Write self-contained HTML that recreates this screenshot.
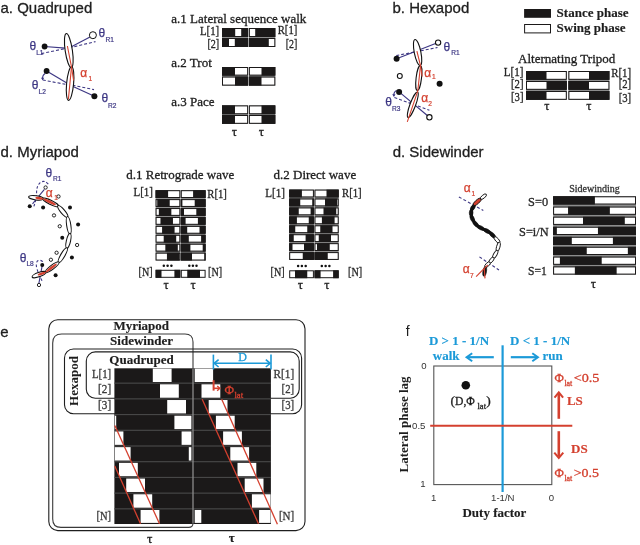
<!DOCTYPE html>
<html><head><meta charset="utf-8"><title>Gait figure</title>
<style>
html,body{margin:0;padding:0;background:#fff;width:640px;height:545px;overflow:hidden;}
svg{display:block;will-change:transform;background:#fff;}
text{white-space:pre;}
</style></head>
<body>
<svg width="640" height="545" viewBox="0 0 640 545">
<rect x="0" y="0" width="640" height="545" fill="#fff"/>
<text x="0.5" y="12.5" font-family="'Liberation Sans'" font-size="15" fill="#1e1e1e" text-anchor="start" font-weight="normal"  stroke="#1e1e1e" stroke-width="0.3">a. Quadruped</text>
<text x="392.5" y="12.5" font-family="'Liberation Sans'" font-size="15" fill="#1e1e1e" text-anchor="start" font-weight="normal"  stroke="#1e1e1e" stroke-width="0.3">b. Hexapod</text>
<text x="0.5" y="157" font-family="'Liberation Sans'" font-size="15" fill="#1e1e1e" text-anchor="start" font-weight="normal"  stroke="#1e1e1e" stroke-width="0.3">d. Myriapod</text>
<text x="392.7" y="157.2" font-family="'Liberation Sans'" font-size="15" fill="#1e1e1e" text-anchor="start" font-weight="normal"  stroke="#1e1e1e" stroke-width="0.3">d. Sidewinder</text>
<text x="0.3" y="336.5" font-family="'Liberation Sans'" font-size="15" fill="#1e1e1e" text-anchor="start" font-weight="normal"  stroke="#1e1e1e" stroke-width="0.3">e</text>
<text x="405.8" y="336.3" font-family="'Liberation Sans'" font-size="14" fill="#1e1e1e" text-anchor="start" font-weight="normal" >f</text>
<text x="171.3" y="22.5" font-family="'Liberation Serif'" font-size="13" fill="#1e1e1e" text-anchor="start" font-weight="normal"  stroke="#1e1e1e" stroke-width="0.3">a.1 Lateral sequence walk</text>
<text x="171.3" y="66.5" font-family="'Liberation Serif'" font-size="13" fill="#1e1e1e" text-anchor="start" font-weight="normal"  stroke="#1e1e1e" stroke-width="0.3">a.2 Trot</text>
<text x="171.3" y="105.6" font-family="'Liberation Serif'" font-size="13" fill="#1e1e1e" text-anchor="start" font-weight="normal"  stroke="#1e1e1e" stroke-width="0.3">a.3 Pace</text>
<rect x="222" y="28" width="26.1" height="19" fill="#8c8c8c" />
<rect x="248.9" y="28" width="26.4" height="19" fill="#8c8c8c" />
<rect x="222" y="28" width="26.1" height="9" fill="#1b1919" />
<rect x="223" y="29" width="24.1" height="7" fill="#fff" />
<rect x="222" y="28" width="13.2" height="9" fill="#1b1919" />
<rect x="241.2" y="28" width="6.9" height="9" fill="#1b1919" />
<rect x="248.9" y="28" width="26.4" height="9" fill="#1b1919" />
<rect x="249.9" y="29" width="24.4" height="7" fill="#fff" />
<rect x="255.2" y="28" width="20.1" height="9" fill="#1b1919" />
<rect x="222" y="38" width="26.1" height="9" fill="#1b1919" />
<rect x="223" y="39" width="24.1" height="7" fill="#fff" />
<rect x="222" y="38" width="7" height="9" fill="#1b1919" />
<rect x="234.8" y="38" width="13.3" height="9" fill="#1b1919" />
<rect x="248.9" y="38" width="26.4" height="9" fill="#1b1919" />
<rect x="249.9" y="39" width="24.4" height="7" fill="#fff" />
<rect x="248.9" y="38" width="19.9" height="9" fill="#1b1919" />
<text x="200" y="34.5" font-family="'Liberation Serif'" font-size="12" fill="#262626" text-anchor="start" font-weight="normal"  textLength="19.2" lengthAdjust="spacingAndGlyphs" stroke="#262626" stroke-width="0.3">L[1]</text>
<text x="207.4" y="47.6" font-family="'Liberation Serif'" font-size="12" fill="#262626" text-anchor="start" font-weight="normal"  textLength="11.8" lengthAdjust="spacingAndGlyphs" stroke="#262626" stroke-width="0.3">[2]</text>
<text x="277.7" y="34.3" font-family="'Liberation Serif'" font-size="12" fill="#262626" text-anchor="start" font-weight="normal"  textLength="19.6" lengthAdjust="spacingAndGlyphs" stroke="#262626" stroke-width="0.3">R[1]</text>
<text x="285.7" y="47.6" font-family="'Liberation Serif'" font-size="12" fill="#262626" text-anchor="start" font-weight="normal"  textLength="11.6" lengthAdjust="spacingAndGlyphs" stroke="#262626" stroke-width="0.3">[2]</text>
<rect x="222" y="67" width="26.1" height="18.6" fill="#8c8c8c" />
<rect x="248.9" y="67" width="26.4" height="18.6" fill="#8c8c8c" />
<rect x="222" y="67" width="26.1" height="8.6" fill="#1b1919" />
<rect x="223" y="68" width="24.1" height="6.6" fill="#fff" />
<rect x="222" y="67" width="13" height="8.6" fill="#1b1919" />
<rect x="248.9" y="67" width="26.4" height="8.6" fill="#1b1919" />
<rect x="249.9" y="68" width="24.4" height="6.6" fill="#fff" />
<rect x="261.5" y="67" width="13.8" height="8.6" fill="#1b1919" />
<rect x="222" y="76.6" width="26.1" height="9" fill="#1b1919" />
<rect x="223" y="77.6" width="24.1" height="7" fill="#fff" />
<rect x="235" y="76.6" width="13.1" height="9" fill="#1b1919" />
<rect x="248.9" y="76.6" width="26.4" height="9" fill="#1b1919" />
<rect x="249.9" y="77.6" width="24.4" height="7" fill="#fff" />
<rect x="248.9" y="76.6" width="12.6" height="9" fill="#1b1919" />
<rect x="222" y="105.4" width="26.1" height="18.4" fill="#8c8c8c" />
<rect x="248.9" y="105.4" width="26.4" height="18.4" fill="#8c8c8c" />
<rect x="222" y="105.4" width="26.1" height="8.8" fill="#1b1919" />
<rect x="223" y="106.4" width="24.1" height="6.8" fill="#fff" />
<rect x="222" y="105.4" width="13" height="8.8" fill="#1b1919" />
<rect x="248.9" y="105.4" width="26.4" height="8.8" fill="#1b1919" />
<rect x="249.9" y="106.4" width="24.4" height="6.8" fill="#fff" />
<rect x="261.5" y="105.4" width="13.8" height="8.8" fill="#1b1919" />
<rect x="222" y="115" width="26.1" height="8.8" fill="#1b1919" />
<rect x="223" y="116" width="24.1" height="6.8" fill="#fff" />
<rect x="222" y="115" width="13" height="8.8" fill="#1b1919" />
<rect x="248.9" y="115" width="26.4" height="8.8" fill="#1b1919" />
<rect x="249.9" y="116" width="24.4" height="6.8" fill="#fff" />
<rect x="261.5" y="115" width="13.8" height="8.8" fill="#1b1919" />
<text x="234.4" y="135.5" font-family="'Liberation Serif'" font-size="13" fill="#1e1e1e" text-anchor="middle" font-weight="normal"  stroke="#1e1e1e" stroke-width="0.3">τ</text>
<text x="261.3" y="135.5" font-family="'Liberation Serif'" font-size="13" fill="#1e1e1e" text-anchor="middle" font-weight="normal"  stroke="#1e1e1e" stroke-width="0.3">τ</text>
<rect x="524.1" y="9" width="26.9" height="8.8" fill="#1b1919" />
<rect x="524.1" y="24" width="26.9" height="9.4" fill="#1b1919" />
<rect x="525.1" y="25" width="24.9" height="7.4" fill="#fff" />
<text x="556.6" y="17.4" font-family="'Liberation Serif'" font-size="13" fill="#1e1e1e" text-anchor="start" font-weight="bold"  stroke="#1e1e1e" stroke-width="0.15">Stance phase</text>
<text x="556.6" y="31.8" font-family="'Liberation Serif'" font-size="13" fill="#1e1e1e" text-anchor="start" font-weight="bold"  stroke="#1e1e1e" stroke-width="0.15">Swing phase</text>
<text x="518.1" y="63.1" font-family="'Liberation Serif'" font-size="13" fill="#1e1e1e" text-anchor="start" font-weight="normal"  stroke="#1e1e1e" stroke-width="0.3">Alternating Tripod</text>
<rect x="526" y="71" width="40.8" height="28.8" fill="#8c8c8c" />
<rect x="568.4" y="71" width="41" height="28.8" fill="#8c8c8c" />
<rect x="526" y="71" width="40.8" height="8.8" fill="#1b1919" />
<rect x="527" y="72" width="38.8" height="6.8" fill="#fff" />
<rect x="526" y="71" width="20.5" height="8.8" fill="#1b1919" />
<rect x="568.4" y="71" width="41" height="8.8" fill="#1b1919" />
<rect x="569.4" y="72" width="39" height="6.8" fill="#fff" />
<rect x="589" y="71" width="20.4" height="8.8" fill="#1b1919" />
<rect x="526" y="81" width="40.8" height="8.8" fill="#1b1919" />
<rect x="527" y="82" width="38.8" height="6.8" fill="#fff" />
<rect x="546.5" y="81" width="20.3" height="8.8" fill="#1b1919" />
<rect x="568.4" y="81" width="41" height="8.8" fill="#1b1919" />
<rect x="569.4" y="82" width="39" height="6.8" fill="#fff" />
<rect x="568.4" y="81" width="20.6" height="8.8" fill="#1b1919" />
<rect x="526" y="91" width="40.8" height="8.8" fill="#1b1919" />
<rect x="527" y="92" width="38.8" height="6.8" fill="#fff" />
<rect x="526" y="91" width="20.5" height="8.8" fill="#1b1919" />
<rect x="568.4" y="91" width="41" height="8.8" fill="#1b1919" />
<rect x="569.4" y="92" width="39" height="6.8" fill="#fff" />
<rect x="589" y="91" width="20.4" height="8.8" fill="#1b1919" />
<text x="503.8" y="75.8" font-family="'Liberation Serif'" font-size="12" fill="#262626" text-anchor="start" font-weight="normal"  textLength="19.7" lengthAdjust="spacingAndGlyphs" stroke="#262626" stroke-width="0.3">L[1]</text>
<text x="511" y="88.1" font-family="'Liberation Serif'" font-size="12" fill="#262626" text-anchor="start" font-weight="normal"  textLength="12.5" lengthAdjust="spacingAndGlyphs" stroke="#262626" stroke-width="0.3">[2]</text>
<text x="511" y="101.4" font-family="'Liberation Serif'" font-size="12" fill="#262626" text-anchor="start" font-weight="normal"  textLength="12.5" lengthAdjust="spacingAndGlyphs" stroke="#262626" stroke-width="0.3">[3]</text>
<text x="611.2" y="76.7" font-family="'Liberation Serif'" font-size="12" fill="#262626" text-anchor="start" font-weight="normal"  textLength="20" lengthAdjust="spacingAndGlyphs" stroke="#262626" stroke-width="0.3">R[1]</text>
<text x="618.7" y="88.2" font-family="'Liberation Serif'" font-size="12" fill="#262626" text-anchor="start" font-weight="normal"  textLength="12.5" lengthAdjust="spacingAndGlyphs" stroke="#262626" stroke-width="0.3">[2]</text>
<text x="618.7" y="101.5" font-family="'Liberation Serif'" font-size="12" fill="#262626" text-anchor="start" font-weight="normal"  textLength="12.5" lengthAdjust="spacingAndGlyphs" stroke="#262626" stroke-width="0.3">[3]</text>
<text x="546.9" y="110" font-family="'Liberation Serif'" font-size="13" fill="#1e1e1e" text-anchor="middle" font-weight="normal"  stroke="#1e1e1e" stroke-width="0.3">τ</text>
<text x="588.8" y="110" font-family="'Liberation Serif'" font-size="13" fill="#1e1e1e" text-anchor="middle" font-weight="normal"  stroke="#1e1e1e" stroke-width="0.3">τ</text>
<text x="126.3" y="178.8" font-family="'Liberation Serif'" font-size="13" fill="#1e1e1e" text-anchor="start" font-weight="normal"  stroke="#1e1e1e" stroke-width="0.3">d.1 Retrograde wave</text>
<rect x="155.6" y="190.2" width="24.7" height="70.31" fill="#8c8c8c" />
<rect x="180.8" y="190.2" width="24.8" height="70.31" fill="#8c8c8c" />
<rect x="155.6" y="190.2" width="24.7" height="7.8" fill="#1b1919" />
<rect x="156.6" y="191.2" width="22.7" height="5.8" fill="#fff" />
<rect x="155.6" y="190.2" width="12.5" height="7.8" fill="#1b1919" />
<rect x="180.8" y="190.2" width="24.8" height="7.8" fill="#1b1919" />
<rect x="181.8" y="191.2" width="22.8" height="5.8" fill="#fff" />
<rect x="193.1" y="190.2" width="12.5" height="7.8" fill="#1b1919" />
<rect x="155.6" y="199.13" width="24.7" height="7.8" fill="#1b1919" />
<rect x="156.6" y="200.13" width="22.7" height="5.8" fill="#fff" />
<rect x="157.22" y="199.13" width="12.5" height="7.8" fill="#1b1919" />
<rect x="180.8" y="199.13" width="24.8" height="7.8" fill="#1b1919" />
<rect x="181.8" y="200.13" width="22.8" height="5.8" fill="#fff" />
<rect x="194.7" y="199.13" width="10.9" height="7.8" fill="#1b1919" />
<rect x="180.8" y="199.13" width="1.6" height="7.8" fill="#1b1919" />
<rect x="155.6" y="208.06" width="24.7" height="7.8" fill="#1b1919" />
<rect x="156.6" y="209.06" width="22.7" height="5.8" fill="#fff" />
<rect x="158.84" y="208.06" width="12.5" height="7.8" fill="#1b1919" />
<rect x="180.8" y="208.06" width="24.8" height="7.8" fill="#1b1919" />
<rect x="181.8" y="209.06" width="22.8" height="5.8" fill="#fff" />
<rect x="196.3" y="208.06" width="9.3" height="7.8" fill="#1b1919" />
<rect x="180.8" y="208.06" width="3.2" height="7.8" fill="#1b1919" />
<rect x="155.6" y="216.99" width="24.7" height="7.8" fill="#1b1919" />
<rect x="156.6" y="217.99" width="22.7" height="5.8" fill="#fff" />
<rect x="160.46" y="216.99" width="12.5" height="7.8" fill="#1b1919" />
<rect x="180.8" y="216.99" width="24.8" height="7.8" fill="#1b1919" />
<rect x="181.8" y="217.99" width="22.8" height="5.8" fill="#fff" />
<rect x="197.9" y="216.99" width="7.7" height="7.8" fill="#1b1919" />
<rect x="180.8" y="216.99" width="4.8" height="7.8" fill="#1b1919" />
<rect x="155.6" y="225.92" width="24.7" height="7.8" fill="#1b1919" />
<rect x="156.6" y="226.92" width="22.7" height="5.8" fill="#fff" />
<rect x="162.08" y="225.92" width="12.5" height="7.8" fill="#1b1919" />
<rect x="180.8" y="225.92" width="24.8" height="7.8" fill="#1b1919" />
<rect x="181.8" y="226.92" width="22.8" height="5.8" fill="#fff" />
<rect x="199.5" y="225.92" width="6.1" height="7.8" fill="#1b1919" />
<rect x="180.8" y="225.92" width="6.4" height="7.8" fill="#1b1919" />
<rect x="155.6" y="234.85" width="24.7" height="7.8" fill="#1b1919" />
<rect x="156.6" y="235.85" width="22.7" height="5.8" fill="#fff" />
<rect x="163.7" y="234.85" width="12.5" height="7.8" fill="#1b1919" />
<rect x="180.8" y="234.85" width="24.8" height="7.8" fill="#1b1919" />
<rect x="181.8" y="235.85" width="22.8" height="5.8" fill="#fff" />
<rect x="201.1" y="234.85" width="4.5" height="7.8" fill="#1b1919" />
<rect x="180.8" y="234.85" width="8" height="7.8" fill="#1b1919" />
<rect x="155.6" y="243.78" width="24.7" height="7.8" fill="#1b1919" />
<rect x="156.6" y="244.78" width="22.7" height="5.8" fill="#fff" />
<rect x="165.32" y="243.78" width="12.5" height="7.8" fill="#1b1919" />
<rect x="180.8" y="243.78" width="24.8" height="7.8" fill="#1b1919" />
<rect x="181.8" y="244.78" width="22.8" height="5.8" fill="#fff" />
<rect x="202.7" y="243.78" width="2.9" height="7.8" fill="#1b1919" />
<rect x="180.8" y="243.78" width="9.6" height="7.8" fill="#1b1919" />
<rect x="155.6" y="252.71" width="24.7" height="7.8" fill="#1b1919" />
<rect x="156.6" y="253.71" width="22.7" height="5.8" fill="#fff" />
<rect x="166.94" y="252.71" width="12.5" height="7.8" fill="#1b1919" />
<rect x="180.8" y="252.71" width="24.8" height="7.8" fill="#1b1919" />
<rect x="181.8" y="253.71" width="22.8" height="5.8" fill="#fff" />
<rect x="204.3" y="252.71" width="1.3" height="7.8" fill="#1b1919" />
<rect x="180.8" y="252.71" width="11.2" height="7.8" fill="#1b1919" />
<rect x="155.6" y="269.8" width="24.7" height="8" fill="#1b1919" />
<rect x="156.6" y="270.8" width="22.7" height="6" fill="#fff" />
<rect x="155.6" y="269.8" width="5.9" height="8" fill="#1b1919" />
<rect x="174.4" y="269.8" width="5.9" height="8" fill="#1b1919" />
<rect x="180.8" y="269.8" width="24.8" height="8" fill="#1b1919" />
<rect x="181.8" y="270.8" width="22.8" height="6" fill="#fff" />
<rect x="187.25" y="269.8" width="12.75" height="8" fill="#1b1919" />
<text x="133.5" y="196.3" font-family="'Liberation Serif'" font-size="12" fill="#262626" text-anchor="start" font-weight="normal"  textLength="19.5" lengthAdjust="spacingAndGlyphs" stroke="#262626" stroke-width="0.3">L[1]</text>
<text x="207.3" y="197.6" font-family="'Liberation Serif'" font-size="12" fill="#262626" text-anchor="start" font-weight="normal"  textLength="19.6" lengthAdjust="spacingAndGlyphs" stroke="#262626" stroke-width="0.3">R[1]</text>
<text x="138.6" y="276" font-family="'Liberation Serif'" font-size="12" fill="#262626" text-anchor="start" font-weight="normal"  textLength="14" lengthAdjust="spacingAndGlyphs" stroke="#262626" stroke-width="0.3">[N]</text>
<text x="208.1" y="276" font-family="'Liberation Serif'" font-size="12" fill="#262626" text-anchor="start" font-weight="normal"  textLength="14" lengthAdjust="spacingAndGlyphs" stroke="#262626" stroke-width="0.3">[N]</text>
<circle cx="163.8" cy="265.7" r="1.25" fill="#111"/>
<circle cx="167.6" cy="265.7" r="1.25" fill="#111"/>
<circle cx="171.4" cy="265.7" r="1.25" fill="#111"/>
<circle cx="189.3" cy="265.7" r="1.25" fill="#111"/>
<circle cx="192.9" cy="265.7" r="1.25" fill="#111"/>
<circle cx="196.5" cy="265.7" r="1.25" fill="#111"/>
<text x="166.2" y="289" font-family="'Liberation Serif'" font-size="13" fill="#1e1e1e" text-anchor="middle" font-weight="normal"  stroke="#1e1e1e" stroke-width="0.3">τ</text>
<text x="193.1" y="289" font-family="'Liberation Serif'" font-size="13" fill="#1e1e1e" text-anchor="middle" font-weight="normal"  stroke="#1e1e1e" stroke-width="0.3">τ</text>
<text x="273.5" y="178.8" font-family="'Liberation Serif'" font-size="13" fill="#1e1e1e" text-anchor="start" font-weight="normal"  stroke="#1e1e1e" stroke-width="0.3">d.2 Direct wave</text>
<rect x="289.2" y="189.6" width="24.7" height="70.31" fill="#8c8c8c" />
<rect x="314.5" y="189.6" width="24.2" height="70.31" fill="#8c8c8c" />
<rect x="289.2" y="189.6" width="24.7" height="7.8" fill="#1b1919" />
<rect x="290.2" y="190.6" width="22.7" height="5.8" fill="#fff" />
<rect x="289.2" y="189.6" width="12.7" height="7.8" fill="#1b1919" />
<rect x="314.5" y="189.6" width="24.2" height="7.8" fill="#1b1919" />
<rect x="315.5" y="190.6" width="22.2" height="5.8" fill="#fff" />
<rect x="326.5" y="189.6" width="12.2" height="7.8" fill="#1b1919" />
<rect x="289.2" y="198.53" width="24.7" height="7.8" fill="#1b1919" />
<rect x="290.2" y="199.53" width="22.7" height="5.8" fill="#fff" />
<rect x="289.2" y="198.53" width="11.05" height="7.8" fill="#1b1919" />
<rect x="312.25" y="198.53" width="1.65" height="7.8" fill="#1b1919" />
<rect x="314.5" y="198.53" width="24.2" height="7.8" fill="#1b1919" />
<rect x="315.5" y="199.53" width="22.2" height="5.8" fill="#fff" />
<rect x="325" y="198.53" width="12.25" height="7.8" fill="#1b1919" />
<rect x="289.2" y="207.46" width="24.7" height="7.8" fill="#1b1919" />
<rect x="290.2" y="208.46" width="22.7" height="5.8" fill="#fff" />
<rect x="289.2" y="207.46" width="9.55" height="7.8" fill="#1b1919" />
<rect x="310.6" y="207.46" width="3.3" height="7.8" fill="#1b1919" />
<rect x="314.5" y="207.46" width="24.2" height="7.8" fill="#1b1919" />
<rect x="315.5" y="208.46" width="22.2" height="5.8" fill="#fff" />
<rect x="323.5" y="207.46" width="12.75" height="7.8" fill="#1b1919" />
<rect x="289.2" y="216.39" width="24.7" height="7.8" fill="#1b1919" />
<rect x="290.2" y="217.39" width="22.7" height="5.8" fill="#fff" />
<rect x="289.2" y="216.39" width="7.7" height="7.8" fill="#1b1919" />
<rect x="308.75" y="216.39" width="5.15" height="7.8" fill="#1b1919" />
<rect x="314.5" y="216.39" width="24.2" height="7.8" fill="#1b1919" />
<rect x="315.5" y="217.39" width="22.2" height="5.8" fill="#fff" />
<rect x="321.9" y="216.39" width="12.7" height="7.8" fill="#1b1919" />
<rect x="289.2" y="225.32" width="24.7" height="7.8" fill="#1b1919" />
<rect x="290.2" y="226.32" width="22.7" height="5.8" fill="#fff" />
<rect x="289.2" y="225.32" width="6.05" height="7.8" fill="#1b1919" />
<rect x="307.25" y="225.32" width="6.65" height="7.8" fill="#1b1919" />
<rect x="314.5" y="225.32" width="24.2" height="7.8" fill="#1b1919" />
<rect x="315.5" y="226.32" width="22.2" height="5.8" fill="#fff" />
<rect x="320.25" y="225.32" width="12.25" height="7.8" fill="#1b1919" />
<rect x="289.2" y="234.25" width="24.7" height="7.8" fill="#1b1919" />
<rect x="290.2" y="235.25" width="22.7" height="5.8" fill="#fff" />
<rect x="289.2" y="234.25" width="4.55" height="7.8" fill="#1b1919" />
<rect x="305.6" y="234.25" width="8.3" height="7.8" fill="#1b1919" />
<rect x="314.5" y="234.25" width="24.2" height="7.8" fill="#1b1919" />
<rect x="315.5" y="235.25" width="22.2" height="5.8" fill="#fff" />
<rect x="318.75" y="234.25" width="12.25" height="7.8" fill="#1b1919" />
<rect x="289.2" y="243.18" width="24.7" height="7.8" fill="#1b1919" />
<rect x="290.2" y="244.18" width="22.7" height="5.8" fill="#fff" />
<rect x="289.2" y="243.18" width="3.3" height="7.8" fill="#1b1919" />
<rect x="304" y="243.18" width="9.9" height="7.8" fill="#1b1919" />
<rect x="314.5" y="243.18" width="24.2" height="7.8" fill="#1b1919" />
<rect x="315.5" y="244.18" width="22.2" height="5.8" fill="#fff" />
<rect x="317" y="243.18" width="12.75" height="7.8" fill="#1b1919" />
<rect x="289.2" y="252.11" width="24.7" height="7.8" fill="#1b1919" />
<rect x="290.2" y="253.11" width="22.7" height="5.8" fill="#fff" />
<rect x="302.75" y="252.11" width="11.15" height="7.8" fill="#1b1919" />
<rect x="314.5" y="252.11" width="24.2" height="7.8" fill="#1b1919" />
<rect x="315.5" y="253.11" width="22.2" height="5.8" fill="#fff" />
<rect x="314.5" y="252.11" width="13.25" height="7.8" fill="#1b1919" />
<rect x="289.2" y="270.3" width="24.7" height="7.9" fill="#1b1919" />
<rect x="290.2" y="271.3" width="22.7" height="5.9" fill="#fff" />
<rect x="295" y="270.3" width="12.25" height="7.9" fill="#1b1919" />
<rect x="314.5" y="270.3" width="24.2" height="7.9" fill="#1b1919" />
<rect x="315.5" y="271.3" width="22.2" height="5.9" fill="#fff" />
<rect x="314.5" y="270.3" width="6.1" height="7.9" fill="#1b1919" />
<rect x="333.1" y="270.3" width="5.6" height="7.9" fill="#1b1919" />
<text x="265.3" y="197.2" font-family="'Liberation Serif'" font-size="12" fill="#262626" text-anchor="start" font-weight="normal"  textLength="19.7" lengthAdjust="spacingAndGlyphs" stroke="#262626" stroke-width="0.3">L[1]</text>
<text x="342" y="197.2" font-family="'Liberation Serif'" font-size="12" fill="#262626" text-anchor="start" font-weight="normal"  textLength="19.7" lengthAdjust="spacingAndGlyphs" stroke="#262626" stroke-width="0.3">R[1]</text>
<text x="270.6" y="276.2" font-family="'Liberation Serif'" font-size="12" fill="#262626" text-anchor="start" font-weight="normal"  textLength="14.1" lengthAdjust="spacingAndGlyphs" stroke="#262626" stroke-width="0.3">[N]</text>
<text x="348.1" y="276.2" font-family="'Liberation Serif'" font-size="12" fill="#262626" text-anchor="start" font-weight="normal"  textLength="14.1" lengthAdjust="spacingAndGlyphs" stroke="#262626" stroke-width="0.3">[N]</text>
<circle cx="298.1" cy="266.0" r="1.25" fill="#111"/>
<circle cx="301.9" cy="266.0" r="1.25" fill="#111"/>
<circle cx="305.7" cy="266.0" r="1.25" fill="#111"/>
<circle cx="321.8" cy="266.0" r="1.25" fill="#111"/>
<circle cx="325.6" cy="266.0" r="1.25" fill="#111"/>
<circle cx="329.4" cy="266.0" r="1.25" fill="#111"/>
<text x="300.3" y="289" font-family="'Liberation Serif'" font-size="13" fill="#1e1e1e" text-anchor="middle" font-weight="normal"  stroke="#1e1e1e" stroke-width="0.3">τ</text>
<text x="326.9" y="289" font-family="'Liberation Serif'" font-size="13" fill="#1e1e1e" text-anchor="middle" font-weight="normal"  stroke="#1e1e1e" stroke-width="0.3">τ</text>
<text x="569.2" y="191.8" font-family="'Liberation Serif'" font-size="10" fill="#333" text-anchor="start" font-weight="normal"  stroke="#333" stroke-width="0.3">Sidewinding</text>
<rect x="553.1" y="196.3" width="82.9" height="78.3" fill="#8c8c8c" />
<rect x="553.1" y="196.3" width="82.9" height="8.2" fill="#1b1919" />
<rect x="554.1" y="197.3" width="80.9" height="6.2" fill="#fff" />
<rect x="553.1" y="196.3" width="41.8" height="8.2" fill="#1b1919" />
<rect x="553.1" y="206.6" width="82.9" height="8.2" fill="#1b1919" />
<rect x="554.1" y="207.6" width="80.9" height="6.2" fill="#fff" />
<rect x="568.05" y="206.6" width="41.8" height="8.2" fill="#1b1919" />
<rect x="553.1" y="216.7" width="82.9" height="8.2" fill="#1b1919" />
<rect x="554.1" y="217.7" width="80.9" height="6.2" fill="#fff" />
<rect x="583" y="216.7" width="41.8" height="8.2" fill="#1b1919" />
<rect x="553.1" y="226.8" width="82.9" height="8.2" fill="#1b1919" />
<rect x="554.1" y="227.8" width="80.9" height="6.2" fill="#fff" />
<rect x="597.95" y="226.8" width="38.05" height="8.2" fill="#1b1919" />
<rect x="553.1" y="226.8" width="3.75" height="8.2" fill="#1b1919" />
<rect x="553.1" y="236.8" width="82.9" height="8.2" fill="#1b1919" />
<rect x="554.1" y="237.8" width="80.9" height="6.2" fill="#fff" />
<rect x="612.9" y="236.8" width="23.1" height="8.2" fill="#1b1919" />
<rect x="553.1" y="236.8" width="18.7" height="8.2" fill="#1b1919" />
<rect x="553.1" y="246.8" width="82.9" height="8.2" fill="#1b1919" />
<rect x="554.1" y="247.8" width="80.9" height="6.2" fill="#fff" />
<rect x="627.85" y="246.8" width="8.15" height="8.2" fill="#1b1919" />
<rect x="553.1" y="246.8" width="33.65" height="8.2" fill="#1b1919" />
<rect x="553.1" y="256.6" width="82.9" height="8.2" fill="#1b1919" />
<rect x="554.1" y="257.6" width="80.9" height="6.2" fill="#fff" />
<rect x="559.9" y="256.6" width="41.8" height="8.2" fill="#1b1919" />
<rect x="553.1" y="266.4" width="82.9" height="8.2" fill="#1b1919" />
<rect x="554.1" y="267.4" width="80.9" height="6.2" fill="#fff" />
<rect x="574.85" y="266.4" width="41.8" height="8.2" fill="#1b1919" />
<text x="528.1" y="205.6" font-family="'Liberation Serif'" font-size="11.5" fill="#2a2a2a" text-anchor="start" font-weight="normal"  textLength="20" lengthAdjust="spacingAndGlyphs" stroke="#2a2a2a" stroke-width="0.3">S=0</text>
<text x="519" y="236.3" font-family="'Liberation Serif'" font-size="11.5" fill="#2a2a2a" text-anchor="start" font-weight="normal"  textLength="29.7" lengthAdjust="spacingAndGlyphs" stroke="#2a2a2a" stroke-width="0.3">S=i/N</text>
<text x="528.1" y="274.8" font-family="'Liberation Serif'" font-size="11.5" fill="#2a2a2a" text-anchor="start" font-weight="normal"  textLength="18.8" lengthAdjust="spacingAndGlyphs" stroke="#2a2a2a" stroke-width="0.3">S=1</text>
<text x="593.4" y="288" font-family="'Liberation Serif'" font-size="13" fill="#1e1e1e" text-anchor="middle" font-weight="normal"  stroke="#1e1e1e" stroke-width="0.3">τ</text>
<rect x="48.8" y="319.8" width="256.2" height="210.8" rx="9" fill="none" stroke="#1e1e1e" stroke-width="1.1"/>
<path d="M52.7,343 Q52.7,334 61.7,334 L185,334 Q193,334 193,342 L193,523 Q193,527.4 188.6,527.4 L61,527.4 Q52.7,527.4 52.7,519 Z" fill="none" stroke="#3a3a3a" stroke-width="1.1"/>
<rect x="64.5" y="349" width="237.1" height="64.8" rx="9" fill="none" stroke="#1e1e1e" stroke-width="1.1"/>
<rect x="86.3" y="351.9" width="212.9" height="46.3" rx="9" fill="none" stroke="#1e1e1e" stroke-width="1.1"/>
<rect x="114.4" y="368.3" width="156.5" height="155.7" fill="#1b1919" />
<rect x="152.8" y="368.6" width="18.8" height="13.41" fill="#fff" />
<rect x="194.7" y="368.6" width="18.4" height="13.41" fill="#fff" />
<rect x="114.4" y="382.61" width="156.5" height="1.1" fill="#4a4a4a" />
<rect x="160" y="384.31" width="18.8" height="13.41" fill="#fff" />
<rect x="201.5" y="384.31" width="18.8" height="13.41" fill="#fff" />
<rect x="114.4" y="398.32" width="156.5" height="1.1" fill="#4a4a4a" />
<rect x="167.2" y="400.02" width="18.8" height="13.41" fill="#fff" />
<rect x="208.7" y="400.02" width="18.8" height="13.41" fill="#fff" />
<rect x="114.4" y="414.03" width="156.5" height="1.1" fill="#4a4a4a" />
<rect x="174.4" y="415.73" width="17" height="13.41" fill="#fff" />
<rect x="114.9" y="415.73" width="1.3" height="13.41" fill="#fff" />
<rect x="215.9" y="415.73" width="18.8" height="13.41" fill="#fff" />
<rect x="114.4" y="429.74" width="156.5" height="1.1" fill="#4a4a4a" />
<rect x="181.6" y="431.44" width="9.8" height="13.41" fill="#fff" />
<rect x="114.9" y="431.44" width="8.5" height="13.41" fill="#fff" />
<rect x="223.1" y="431.44" width="18.8" height="13.41" fill="#fff" />
<rect x="114.4" y="445.45" width="156.5" height="1.1" fill="#4a4a4a" />
<rect x="188.8" y="447.15" width="2.6" height="13.41" fill="#fff" />
<rect x="114.9" y="447.15" width="15.7" height="13.41" fill="#fff" />
<rect x="230.3" y="447.15" width="18.8" height="13.41" fill="#fff" />
<rect x="114.4" y="461.16" width="156.5" height="1.1" fill="#4a4a4a" />
<rect x="119" y="462.86" width="18.8" height="13.41" fill="#fff" />
<rect x="237.5" y="462.86" width="18.8" height="13.41" fill="#fff" />
<rect x="114.4" y="476.87" width="156.5" height="1.1" fill="#4a4a4a" />
<rect x="126.2" y="478.57" width="18.8" height="13.41" fill="#fff" />
<rect x="244.7" y="478.57" width="18.8" height="13.41" fill="#fff" />
<rect x="114.4" y="492.58" width="156.5" height="1.1" fill="#4a4a4a" />
<rect x="133.4" y="494.28" width="18.8" height="13.41" fill="#fff" />
<rect x="251.9" y="494.28" width="18.7" height="13.41" fill="#fff" />
<rect x="114.4" y="508.29" width="156.5" height="1.1" fill="#4a4a4a" />
<rect x="140.6" y="509.99" width="18.8" height="12.91" fill="#fff" />
<rect x="259.1" y="509.99" width="11.5" height="12.91" fill="#fff" />
<rect x="194.7" y="509.99" width="6.6" height="12.91" fill="#fff" />
<line x1="193" y1="368.5" x2="193" y2="523.5" stroke="#8c8c8c" stroke-width="1.3" />
<line x1="202.2" y1="399.3" x2="258.5" y2="523.8" stroke="#d4402f" stroke-width="1.3" />
<line x1="221.7" y1="399.3" x2="277.4" y2="524.2" stroke="#d4402f" stroke-width="1.3" />
<line x1="114.8" y1="425.6" x2="159.5" y2="523.8" stroke="#d4402f" stroke-width="1.3" />
<line x1="114.8" y1="466" x2="140.5" y2="523.8" stroke="#d4402f" stroke-width="1.3" />
<text x="141.2" y="329.8" font-family="'Liberation Serif'" font-size="13" fill="#1e1e1e" text-anchor="middle" font-weight="bold"  stroke="#1e1e1e" stroke-width="0.15">Myriapod</text>
<text x="141.5" y="345" font-family="'Liberation Serif'" font-size="13" fill="#1e1e1e" text-anchor="middle" font-weight="bold"  stroke="#1e1e1e" stroke-width="0.15">Sidewinder</text>
<text x="141.5" y="363.5" font-family="'Liberation Serif'" font-size="13" fill="#1e1e1e" text-anchor="middle" font-weight="bold"  stroke="#1e1e1e" stroke-width="0.15">Quadruped</text>
<text transform="translate(77.6,381) rotate(-90)" font-family="'Liberation Serif'" font-size="13" font-weight="bold" fill="#1e1e1e" text-anchor="middle">Hexapod</text>
<text x="91.9" y="377.9" font-family="'Liberation Serif'" font-size="11.5" fill="#3a3a3a" text-anchor="start" font-weight="normal"  textLength="19.3" lengthAdjust="spacingAndGlyphs" stroke="#3a3a3a" stroke-width="0.3">L[1]</text>
<text x="98.1" y="392.9" font-family="'Liberation Serif'" font-size="11.5" fill="#3a3a3a" text-anchor="start" font-weight="normal"  textLength="13.1" lengthAdjust="spacingAndGlyphs" stroke="#3a3a3a" stroke-width="0.3">[2]</text>
<text x="98.1" y="408.5" font-family="'Liberation Serif'" font-size="11.5" fill="#3a3a3a" text-anchor="start" font-weight="normal"  textLength="13.1" lengthAdjust="spacingAndGlyphs" stroke="#3a3a3a" stroke-width="0.3">[3]</text>
<text x="96.4" y="520" font-family="'Liberation Serif'" font-size="11.5" fill="#3a3a3a" text-anchor="start" font-weight="normal"  textLength="14.6" lengthAdjust="spacingAndGlyphs" stroke="#3a3a3a" stroke-width="0.3">[N]</text>
<text x="273.6" y="378.2" font-family="'Liberation Serif'" font-size="11.5" fill="#3a3a3a" text-anchor="start" font-weight="normal"  textLength="20.6" lengthAdjust="spacingAndGlyphs" stroke="#3a3a3a" stroke-width="0.3">R[1]</text>
<text x="281.6" y="393.3" font-family="'Liberation Serif'" font-size="11.5" fill="#3a3a3a" text-anchor="start" font-weight="normal"  textLength="12.6" lengthAdjust="spacingAndGlyphs" stroke="#3a3a3a" stroke-width="0.3">[2]</text>
<text x="281.6" y="409" font-family="'Liberation Serif'" font-size="11.5" fill="#3a3a3a" text-anchor="start" font-weight="normal"  textLength="12.6" lengthAdjust="spacingAndGlyphs" stroke="#3a3a3a" stroke-width="0.3">[3]</text>
<text x="278.9" y="520" font-family="'Liberation Serif'" font-size="11.5" fill="#3a3a3a" text-anchor="start" font-weight="normal"  textLength="15.3" lengthAdjust="spacingAndGlyphs" stroke="#3a3a3a" stroke-width="0.3">[N]</text>
<text x="149.7" y="542.6" font-family="'Liberation Serif'" font-size="13.5" fill="#1e1e1e" text-anchor="middle" font-weight="normal"  stroke="#1e1e1e" stroke-width="0.3">τ</text>
<text x="231.8" y="541.8" font-family="'Liberation Serif'" font-size="13" fill="#1e1e1e" text-anchor="middle" font-weight="bold"  stroke="#1e1e1e" stroke-width="0.15">τ</text>
<line x1="213.4" y1="354.6" x2="213.4" y2="369.5" stroke="#1c9ad8" stroke-width="1.6" />
<line x1="271" y1="354.6" x2="271" y2="369.5" stroke="#1c9ad8" stroke-width="1.6" />
<line x1="214" y1="363.3" x2="270.4" y2="363.3" stroke="#1c9ad8" stroke-width="1.6" />
<polyline points="218.6,359.6 214.2,363.3 218.6,367" fill="none" stroke="#1c9ad8" stroke-width="1.6"/>
<polyline points="265.8,359.6 270.2,363.3 265.8,367" fill="none" stroke="#1c9ad8" stroke-width="1.6"/>
<text x="242.5" y="360.6" font-family="'Liberation Serif'" font-size="12" fill="#1c9ad8" text-anchor="middle" font-weight="normal"  stroke="#1c9ad8" stroke-width="0.3">D</text>
<line x1="213.6" y1="380.2" x2="213.6" y2="390.6" stroke="#d4402f" stroke-width="2" />
<line x1="213.6" y1="388.3" x2="219.5" y2="388.3" stroke="#d4402f" stroke-width="1.6" />
<polyline points="217.2,385.9 219.8,388.3 217.2,390.7" fill="none" stroke="#d4402f" stroke-width="1.4"/>
<text x="224.4" y="393.6" font-family="'Liberation Serif'" font-size="13" fill="#d4402f" text-anchor="start" font-weight="normal"  textLength="9.6" lengthAdjust="spacingAndGlyphs" stroke="#d4402f" stroke-width="0.3">Φ</text>
<text x="234.4" y="397.6" font-family="'Liberation Serif'" font-size="8.5" fill="#d4402f" text-anchor="start" font-weight="normal"  textLength="8.7" lengthAdjust="spacingAndGlyphs" stroke="#d4402f" stroke-width="0.3">lat</text>
<rect x="433.8" y="366" width="118" height="118.6" fill="none" stroke="#555" stroke-width="1.1"/>
<line x1="502.6" y1="345.3" x2="502.6" y2="492" stroke="#1c9ad8" stroke-width="2.2" />
<line x1="430.2" y1="425.8" x2="572.3" y2="425.8" stroke="#d4402f" stroke-width="2" />
<line x1="467.5" y1="357.2" x2="493.8" y2="357.2" stroke="#1c9ad8" stroke-width="2.2" />
<polyline points="472.2,353.2 466.6,357.2 472.2,361.2" fill="none" stroke="#1c9ad8" stroke-width="2"/>
<line x1="510.8" y1="357.2" x2="537" y2="357.2" stroke="#1c9ad8" stroke-width="2.2" />
<polyline points="532.3,353.2 537.9,357.2 532.3,361.2" fill="none" stroke="#1c9ad8" stroke-width="2"/>
<text x="428.9" y="344.8" font-family="'Liberation Serif'" font-size="13" fill="#1c9ad8" text-anchor="start" font-weight="bold"  stroke="#1c9ad8" stroke-width="0.15">D &gt; 1 - 1/N</text>
<text x="510" y="344.8" font-family="'Liberation Serif'" font-size="13" fill="#1c9ad8" text-anchor="start" font-weight="bold"  stroke="#1c9ad8" stroke-width="0.15">D &lt; 1 - 1/N</text>
<text x="432.8" y="359.8" font-family="'Liberation Serif'" font-size="13" fill="#1c9ad8" text-anchor="start" font-weight="bold"  stroke="#1c9ad8" stroke-width="0.15">walk</text>
<text x="542.6" y="359.8" font-family="'Liberation Serif'" font-size="13" fill="#1c9ad8" text-anchor="start" font-weight="bold"  stroke="#1c9ad8" stroke-width="0.15">run</text>
<line x1="558.8" y1="393.5" x2="558.8" y2="418.8" stroke="#d4402f" stroke-width="2.6" />
<polyline points="554.5,397.6 558.8,392.3 563.1,397.6" fill="none" stroke="#d4402f" stroke-width="2"/>
<line x1="558.8" y1="431.2" x2="558.8" y2="456.5" stroke="#d4402f" stroke-width="2.6" />
<polyline points="554.3,452.7 558.8,458 563.3,452.7" fill="none" stroke="#d4402f" stroke-width="2"/>
<text x="566.9" y="404.8" font-family="'Liberation Serif'" font-size="13" fill="#d4402f" text-anchor="start" font-weight="bold"  stroke="#d4402f" stroke-width="0.15">LS</text>
<text x="571" y="452.8" font-family="'Liberation Serif'" font-size="13" fill="#d4402f" text-anchor="start" font-weight="bold"  stroke="#d4402f" stroke-width="0.15">DS</text>
<text x="554.4" y="381.6" font-family="'Liberation Serif'" font-size="13" fill="#d4402f" text-anchor="start" font-weight="normal"  textLength="9.4" lengthAdjust="spacingAndGlyphs" stroke="#d4402f" stroke-width="0.3">Φ</text>
<text x="564.4" y="385.7" font-family="'Liberation Serif'" font-size="8" fill="#d4402f" text-anchor="start" font-weight="normal"  textLength="7.9" lengthAdjust="spacingAndGlyphs" stroke="#d4402f" stroke-width="0.3">lat</text>
<text x="573.7" y="381.6" font-family="'Liberation Serif'" font-size="13" fill="#d4402f" text-anchor="start" font-weight="normal"  textLength="25.7" lengthAdjust="spacingAndGlyphs" stroke="#d4402f" stroke-width="0.3">&lt;0.5</text>
<text x="554.4" y="476.8" font-family="'Liberation Serif'" font-size="13" fill="#d4402f" text-anchor="start" font-weight="normal"  textLength="9.4" lengthAdjust="spacingAndGlyphs" stroke="#d4402f" stroke-width="0.3">Φ</text>
<text x="564.4" y="481.2" font-family="'Liberation Serif'" font-size="8" fill="#d4402f" text-anchor="start" font-weight="normal"  textLength="7.9" lengthAdjust="spacingAndGlyphs" stroke="#d4402f" stroke-width="0.3">lat</text>
<text x="573.7" y="476.6" font-family="'Liberation Serif'" font-size="13" fill="#d4402f" text-anchor="start" font-weight="normal"  textLength="25.3" lengthAdjust="spacingAndGlyphs" stroke="#d4402f" stroke-width="0.3">&gt;0.5</text>
<circle cx="465.8" cy="385.3" r="4.3" fill="#111"/>
<text x="450.4" y="405.3" font-family="'Liberation Serif'" font-size="13.5" fill="#1e1e1e" text-anchor="start" font-weight="normal"  stroke="#1e1e1e" stroke-width="0.3">(</text>
<text x="455" y="405.2" font-family="'Liberation Serif'" font-size="11.8" fill="#1e1e1e" text-anchor="start" font-weight="normal"  textLength="19.8" lengthAdjust="spacingAndGlyphs" stroke="#1e1e1e" stroke-width="0.3">D,Φ</text>
<text x="477.5" y="408.5" font-family="'Liberation Serif'" font-size="8" fill="#1e1e1e" text-anchor="start" font-weight="normal"  textLength="8.5" lengthAdjust="spacingAndGlyphs" stroke="#1e1e1e" stroke-width="0.3">lat</text>
<text x="486.3" y="405.3" font-family="'Liberation Serif'" font-size="13.5" fill="#1e1e1e" text-anchor="start" font-weight="normal"  stroke="#1e1e1e" stroke-width="0.3">)</text>
<text x="426.6" y="368.8" font-family="'Liberation Sans'" font-size="9.6" fill="#333" text-anchor="end" font-weight="normal" >0</text>
<text x="425.4" y="428.5" font-family="'Liberation Sans'" font-size="9.6" fill="#333" text-anchor="end" font-weight="normal" >0.5</text>
<text x="425.6" y="487.3" font-family="'Liberation Sans'" font-size="9.6" fill="#333" text-anchor="end" font-weight="normal" >1</text>
<text x="433.6" y="501.2" font-family="'Liberation Sans'" font-size="9.6" fill="#333" text-anchor="middle" font-weight="normal" >1</text>
<text x="502.8" y="501" font-family="'Liberation Sans'" font-size="9.6" fill="#333" text-anchor="middle" font-weight="normal" >1-1/N</text>
<text x="551.5" y="501" font-family="'Liberation Sans'" font-size="9.6" fill="#333" text-anchor="middle" font-weight="normal" >0</text>
<text x="494.4" y="516.5" font-family="'Liberation Serif'" font-size="13" fill="#1e1e1e" text-anchor="middle" font-weight="bold"  stroke="#1e1e1e" stroke-width="0.15">Duty factor</text>
<text transform="translate(407.7,424.4) rotate(-90)" font-family="'Liberation Serif'" font-size="13" font-weight="bold" fill="#1e1e1e" text-anchor="middle">Lateral phase lag</text>
<line x1="44.6" y1="46.5" x2="65.5" y2="48.2" stroke="#3d3784" stroke-width="1.2" />
<line x1="68.5" y1="48.2" x2="90" y2="37" stroke="#3d3784" stroke-width="1.2" />
<line x1="41.3" y1="53.6" x2="66.5" y2="48.3" stroke="#3d3784" stroke-width="1.1" stroke-dasharray="3,2"/>
<line x1="69.5" y1="47.8" x2="95.5" y2="41.6" stroke="#3d3784" stroke-width="1.1" stroke-dasharray="3,2"/>
<line x1="46.6" y1="71" x2="68.5" y2="84" stroke="#3d3784" stroke-width="1.2" />
<line x1="72" y1="86" x2="94.4" y2="96.2" stroke="#3d3784" stroke-width="1.2" />
<line x1="42.8" y1="80" x2="68" y2="84.8" stroke="#3d3784" stroke-width="1.1" stroke-dasharray="3,2"/>
<line x1="72.5" y1="85.2" x2="94" y2="89.6" stroke="#3d3784" stroke-width="1.1" stroke-dasharray="3,2"/>
<path d="M45.2,73.6 Q42.2,75.2 42.6,79.6" fill="none" stroke="#3d3784" stroke-width="1.1"/>
<path d="M40.9,77.8 L42.7,80.3 L44.2,77.7" fill="#3d3784" stroke="none"/>
<ellipse cx="0" cy="0" rx="3.6" ry="17.2" transform="translate(68.8,50.6) rotate(-8.4)" fill="#fff" stroke="#111" stroke-width="1.1"/>
<ellipse cx="0" cy="0" rx="3.5" ry="16.8" transform="translate(70.1,83.6) rotate(5.2)" fill="#fff" stroke="#111" stroke-width="1.1"/>
<polyline points="67.4,46.0 71.5,67.0 68.4,99.2" fill="none" stroke="#d4402f" stroke-width="1.1"/>
<line x1="71.5" y1="67" x2="73.6" y2="80.5" stroke="#d4402f" stroke-width="1.1" />
<circle cx="44.6" cy="46.5" r="2.9" fill="#111"/>
<circle cx="92.9" cy="35.2" r="3.5" fill="#fff" stroke="#111" stroke-width="1"/>
<circle cx="46.6" cy="71" r="2.9" fill="#111"/>
<circle cx="94.4" cy="96.3" r="3" fill="#111"/>
<text x="29.6" y="49.9" font-family="'Liberation Sans'" font-size="12" fill="#3d3784" stroke="#3d3784" stroke-width="0.25">θ</text>
<text x="36.2" y="54.6" font-family="'Liberation Sans'" font-size="6.6" fill="#3d3784" stroke="#3d3784" stroke-width="0.2">L1</text>
<text x="98.6" y="37.4" font-family="'Liberation Sans'" font-size="12" fill="#3d3784" stroke="#3d3784" stroke-width="0.25">θ</text>
<text x="105.5" y="41.9" font-family="'Liberation Sans'" font-size="6.6" fill="#3d3784" stroke="#3d3784" stroke-width="0.2">R1</text>
<text x="31.8" y="89.3" font-family="'Liberation Sans'" font-size="12" fill="#3d3784" stroke="#3d3784" stroke-width="0.25">θ</text>
<text x="38.6" y="93.8" font-family="'Liberation Sans'" font-size="6.6" fill="#3d3784" stroke="#3d3784" stroke-width="0.2">L2</text>
<text x="101.4" y="102.4" font-family="'Liberation Sans'" font-size="12" fill="#3d3784" stroke="#3d3784" stroke-width="0.25">θ</text>
<text x="108" y="107.6" font-family="'Liberation Sans'" font-size="6.6" fill="#3d3784" stroke="#3d3784" stroke-width="0.2">R2</text>
<text x="80.3" y="76.9" font-family="'Liberation Sans'" font-size="12" fill="#d4402f" stroke="#d4402f" stroke-width="0.25">α</text>
<text x="88.4" y="81.3" font-family="'Liberation Sans'" font-size="6.6" fill="#d4402f" stroke="#d4402f" stroke-width="0.2">1</text>
<line x1="396.6" y1="58.8" x2="438.1" y2="42.5" stroke="#3d3784" stroke-width="1.2" />
<line x1="396.3" y1="55.6" x2="437.5" y2="47.5" stroke="#3d3784" stroke-width="1.1" stroke-dasharray="3,2"/>
<line x1="399.1" y1="91.9" x2="429.4" y2="117.3" stroke="#3d3784" stroke-width="1.2" />
<line x1="394.4" y1="97.5" x2="429.4" y2="110.2" stroke="#3d3784" stroke-width="1.1" stroke-dasharray="3,2"/>
<path d="M396.6,90.4 Q393.4,92.0 393.8,96.0" fill="none" stroke="#3d3784" stroke-width="1.1"/>
<path d="M392.2,94.3 L393.9,96.9 L395.5,94.3" fill="#3d3784" stroke="none"/>
<ellipse cx="0" cy="0" rx="3.3" ry="13.3" transform="translate(417.6,52.5) rotate(-11.3)" fill="#fff" stroke="#111" stroke-width="1.1"/>
<ellipse cx="0" cy="0" rx="2.7" ry="12.6" transform="translate(418.8,78.1) rotate(6.8)" fill="#fff" stroke="#111" stroke-width="1.1"/>
<ellipse cx="0" cy="0" rx="2.8" ry="13.6" transform="translate(412.8,104.8) rotate(20.6)" fill="#fff" stroke="#111" stroke-width="1.1"/>
<polyline points="416.9,51.2 420.5,65.6 417.8,91.0 407.3,121.9" fill="none" stroke="#d4402f" stroke-width="1.1"/>
<line x1="420.5" y1="65.6" x2="422.2" y2="76.5" stroke="#d4402f" stroke-width="1.1" />
<circle cx="396.6" cy="58.8" r="3" fill="#111"/>
<circle cx="438.1" cy="42.6" r="2.65" fill="#fff" stroke="#111" stroke-width="1.1"/>
<circle cx="399.8" cy="76" r="2.45" fill="#fff" stroke="#111" stroke-width="1.1"/>
<circle cx="439.6" cy="83.8" r="3" fill="#111"/>
<circle cx="399.1" cy="91.9" r="3" fill="#111"/>
<circle cx="429.4" cy="117.3" r="2.65" fill="#fff" stroke="#111" stroke-width="1.1"/>
<text x="443.6" y="51.2" font-family="'Liberation Sans'" font-size="12" fill="#3d3784" stroke="#3d3784" stroke-width="0.25">θ</text>
<text x="451.2" y="55.2" font-family="'Liberation Sans'" font-size="6.6" fill="#3d3784" stroke="#3d3784" stroke-width="0.2">R1</text>
<text x="385.2" y="106.2" font-family="'Liberation Sans'" font-size="12" fill="#3d3784" stroke="#3d3784" stroke-width="0.25">θ</text>
<text x="392" y="111.4" font-family="'Liberation Sans'" font-size="6.6" fill="#3d3784" stroke="#3d3784" stroke-width="0.2">R3</text>
<text x="424.2" y="76.9" font-family="'Liberation Sans'" font-size="12" fill="#d4402f" stroke="#d4402f" stroke-width="0.25">α</text>
<text x="432" y="79" font-family="'Liberation Sans'" font-size="6.6" fill="#d4402f" stroke="#d4402f" stroke-width="0.2">1</text>
<text x="421.3" y="101.9" font-family="'Liberation Sans'" font-size="12" fill="#d4402f" stroke="#d4402f" stroke-width="0.25">α</text>
<text x="428.3" y="105.7" font-family="'Liberation Sans'" font-size="6.6" fill="#d4402f" stroke="#d4402f" stroke-width="0.2">2</text>
<line x1="44.4" y1="189.4" x2="32.5" y2="203.8" stroke="#3d3784" stroke-width="1.1" />
<path d="M48.3,184.2 Q44.5,179.6 40.2,182.6 Q36.6,186 36.6,192 Q36.4,200 33.8,206.5" fill="none" stroke="#3d3784" stroke-width="1.1" stroke-dasharray="2.6,1.9"/>
<line x1="42.3" y1="265" x2="38.8" y2="283.8" stroke="#3d3784" stroke-width="1.1" />
<path d="M42.8,261.6 Q40,259.2 37.2,261.2 Q35.8,263.5 36.6,267.5 Q38,273 40.5,277.5 Q42,280.5 42.4,282.6" fill="none" stroke="#3d3784" stroke-width="1.1" stroke-dasharray="2.6,2.2"/>
<ellipse cx="0" cy="0" rx="7.51" ry="2.1" transform="translate(36.05,197.82) rotate(7.47)" fill="#fff" stroke="#111" stroke-width="1.05"/>
<ellipse cx="0" cy="0" rx="8.73" ry="2.1" transform="translate(50.6,202.38) rotate(25.8)" fill="#fff" stroke="#111" stroke-width="1.05"/>
<ellipse cx="0" cy="0" rx="7.6" ry="2.1" transform="translate(62.8,211.45) rotate(49.23)" fill="#fff" stroke="#111" stroke-width="1.05"/>
<ellipse cx="0" cy="0" rx="8.92" ry="2.1" transform="translate(68.75,225.32) rotate(81.56)" fill="#fff" stroke="#111" stroke-width="1.05"/>
<ellipse cx="0" cy="0" rx="7.74" ry="2.1" transform="translate(68.45,240.93) rotate(102.19)" fill="#fff" stroke="#111" stroke-width="1.05"/>
<ellipse cx="0" cy="0" rx="8.56" ry="2.1" transform="translate(62.83,255.18) rotate(119.94)" fill="#fff" stroke="#111" stroke-width="1.05"/>
<ellipse cx="0" cy="0" rx="8.66" ry="2.1" transform="translate(52.17,267.25) rotate(142.75)" fill="#fff" stroke="#111" stroke-width="1.05"/>
<ellipse cx="0" cy="0" rx="7.35" ry="2.1" transform="translate(39.05,274.57) rotate(160.46)" fill="#fff" stroke="#111" stroke-width="1.05"/>
<ellipse cx="0" cy="0" rx="3.91" ry="1.3" transform="translate(39.22,198.24) rotate(7.47)" fill="#d4402f" stroke="none" stroke-width="0"/>
<ellipse cx="0" cy="0" rx="7.08" ry="1.4" transform="translate(49.48,201.83) rotate(25.8)" fill="#d4402f" stroke="none" stroke-width="0"/>
<ellipse cx="0" cy="0" rx="7.02" ry="1.4" transform="translate(51.19,268) rotate(142.75)" fill="#d4402f" stroke="none" stroke-width="0"/>
<ellipse cx="0" cy="0" rx="4.17" ry="1.3" transform="translate(41.67,273.64) rotate(160.46)" fill="#d4402f" stroke="none" stroke-width="0"/>
<circle cx="29.75" cy="206.25" r="2" fill="#111"/>
<circle cx="43.1" cy="207.5" r="2" fill="#111"/>
<circle cx="70" cy="207.5" r="2" fill="#111"/>
<circle cx="78.1" cy="224.6" r="2" fill="#111"/>
<circle cx="62.25" cy="237.75" r="2" fill="#111"/>
<circle cx="71.9" cy="257.5" r="2" fill="#111"/>
<circle cx="42.25" cy="265" r="2" fill="#111"/>
<circle cx="55.6" cy="275.25" r="2" fill="#111"/>
<circle cx="45.6" cy="187.5" r="1.65" fill="#fff" stroke="#111" stroke-width="0.9"/>
<circle cx="58.5" cy="196.5" r="1.65" fill="#fff" stroke="#111" stroke-width="0.9"/>
<circle cx="54" cy="215.4" r="1.65" fill="#fff" stroke="#111" stroke-width="0.9"/>
<circle cx="59.75" cy="226.25" r="1.65" fill="#fff" stroke="#111" stroke-width="0.9"/>
<circle cx="77.1" cy="245" r="1.65" fill="#fff" stroke="#111" stroke-width="0.9"/>
<circle cx="56.6" cy="252.75" r="1.65" fill="#fff" stroke="#111" stroke-width="0.9"/>
<circle cx="50.9" cy="259.75" r="1.65" fill="#fff" stroke="#111" stroke-width="0.9"/>
<circle cx="39" cy="285" r="1.65" fill="#fff" stroke="#111" stroke-width="0.9"/>
<text x="45.4" y="176.8" font-family="'Liberation Sans'" font-size="12" fill="#3d3784" stroke="#3d3784" stroke-width="0.25">θ</text>
<text x="53" y="180.7" font-family="'Liberation Sans'" font-size="6.6" fill="#3d3784" stroke="#3d3784" stroke-width="0.2">R1</text>
<text x="45.8" y="196.8" font-family="'Liberation Sans'" font-size="12" fill="#d4402f" stroke="#d4402f" stroke-width="0.25">α</text>
<text x="54.2" y="200.4" font-family="'Liberation Sans'" font-size="6.6" fill="#d4402f" stroke="#d4402f" stroke-width="0.2">1</text>
<text x="19.8" y="262.4" font-family="'Liberation Sans'" font-size="12" fill="#3d3784" stroke="#3d3784" stroke-width="0.25">θ</text>
<text x="26.4" y="266.4" font-family="'Liberation Sans'" font-size="6.6" fill="#3d3784" stroke="#3d3784" stroke-width="0.2">L8</text>
<line x1="458.9" y1="196.9" x2="483.3" y2="210.5" stroke="#3d3784" stroke-width="1.1" stroke-dasharray="3,2.2"/>
<line x1="479.4" y1="256.9" x2="499" y2="270" stroke="#3d3784" stroke-width="1.1" stroke-dasharray="3,2.2"/>
<path d="M474.6,204.6 C470.5,209 470.6,214 472.6,219 C474.5,223.8 478.5,227.5 484.4,229.7 C488.5,231.3 492.2,234 494.8,237.3" fill="none" stroke="#111" stroke-width="2.8" stroke-linecap="round"/>
<ellipse cx="0" cy="0" rx="3.46" ry="1.9" transform="translate(472.85,207.6) rotate(122.86)" fill="#111" stroke="#111" stroke-width="0.5"/>
<ellipse cx="0" cy="0" rx="3.4" ry="1.9" transform="translate(471.15,212.8) rotate(93.07)" fill="#111" stroke="#111" stroke-width="0.5"/>
<ellipse cx="0" cy="0" rx="3.87" ry="1.9" transform="translate(472.3,218.6) rotate(66.57)" fill="#111" stroke="#111" stroke-width="0.5"/>
<ellipse cx="0" cy="0" rx="3.79" ry="1.9" transform="translate(475.7,224) rotate(48.81)" fill="#111" stroke="#111" stroke-width="0.5"/>
<ellipse cx="0" cy="0" rx="4.04" ry="1.9" transform="translate(480.9,227.9) rotate(25.82)" fill="#111" stroke="#111" stroke-width="0.5"/>
<ellipse cx="0" cy="0" rx="4" ry="1.9" transform="translate(487,231) rotate(28.07)" fill="#111" stroke="#111" stroke-width="0.5"/>
<ellipse cx="0" cy="0" rx="3.78" ry="1.9" transform="translate(492.3,234.8) rotate(43.73)" fill="#111" stroke="#111" stroke-width="0.5"/>
<ellipse cx="0" cy="0" rx="5.05" ry="1.9" transform="translate(477.2,201.9) rotate(-40.73)" fill="#d4402f" stroke="#111" stroke-width="0.9"/>
<ellipse cx="0" cy="0" rx="3.77" ry="1.6" transform="translate(483.4,196.65) rotate(-39.59)" fill="#fff" stroke="#111" stroke-width="0.9"/>
<ellipse cx="0" cy="0" rx="4.05" ry="1.7" transform="translate(497,239.9) rotate(49.57)" fill="#fff" stroke="#111" stroke-width="0.9"/>
<ellipse cx="0" cy="0" rx="4.83" ry="1.7" transform="translate(498.25,246.8) rotate(104.04)" fill="#fff" stroke="#111" stroke-width="0.9"/>
<ellipse cx="0" cy="0" rx="4.39" ry="1.7" transform="translate(495.3,254.4) rotate(119.2)" fill="#fff" stroke="#111" stroke-width="0.9"/>
<ellipse cx="0" cy="0" rx="3.52" ry="1.7" transform="translate(491.5,260.15) rotate(128.96)" fill="#fff" stroke="#111" stroke-width="0.9"/>
<ellipse cx="0" cy="0" rx="3.51" ry="1.7" transform="translate(487.5,264.65) rotate(134.33)" fill="#fff" stroke="#111" stroke-width="0.9"/>
<ellipse cx="0" cy="0" rx="4.85" ry="1.8" transform="translate(484.7,271.4) rotate(98.65)" fill="#111" stroke="#111" stroke-width="0.6"/>
<line x1="476.1" y1="276.6" x2="487.8" y2="264.8" stroke="#d4402f" stroke-width="1.2" />
<line x1="484.3" y1="269" x2="485" y2="278.4" stroke="#d4402f" stroke-width="1.2" />
<text x="463.7" y="191.7" font-family="'Liberation Sans'" font-size="12" fill="#d4402f" stroke="#d4402f" stroke-width="0.25">α</text>
<text x="471.6" y="195.7" font-family="'Liberation Sans'" font-size="6.6" fill="#d4402f" stroke="#d4402f" stroke-width="0.2">1</text>
<text x="462.8" y="273.3" font-family="'Liberation Sans'" font-size="12" fill="#d4402f" stroke="#d4402f" stroke-width="0.25">α</text>
<text x="470" y="277.9" font-family="'Liberation Sans'" font-size="6.6" fill="#d4402f" stroke="#d4402f" stroke-width="0.2">7</text>
</svg>
</body></html>
